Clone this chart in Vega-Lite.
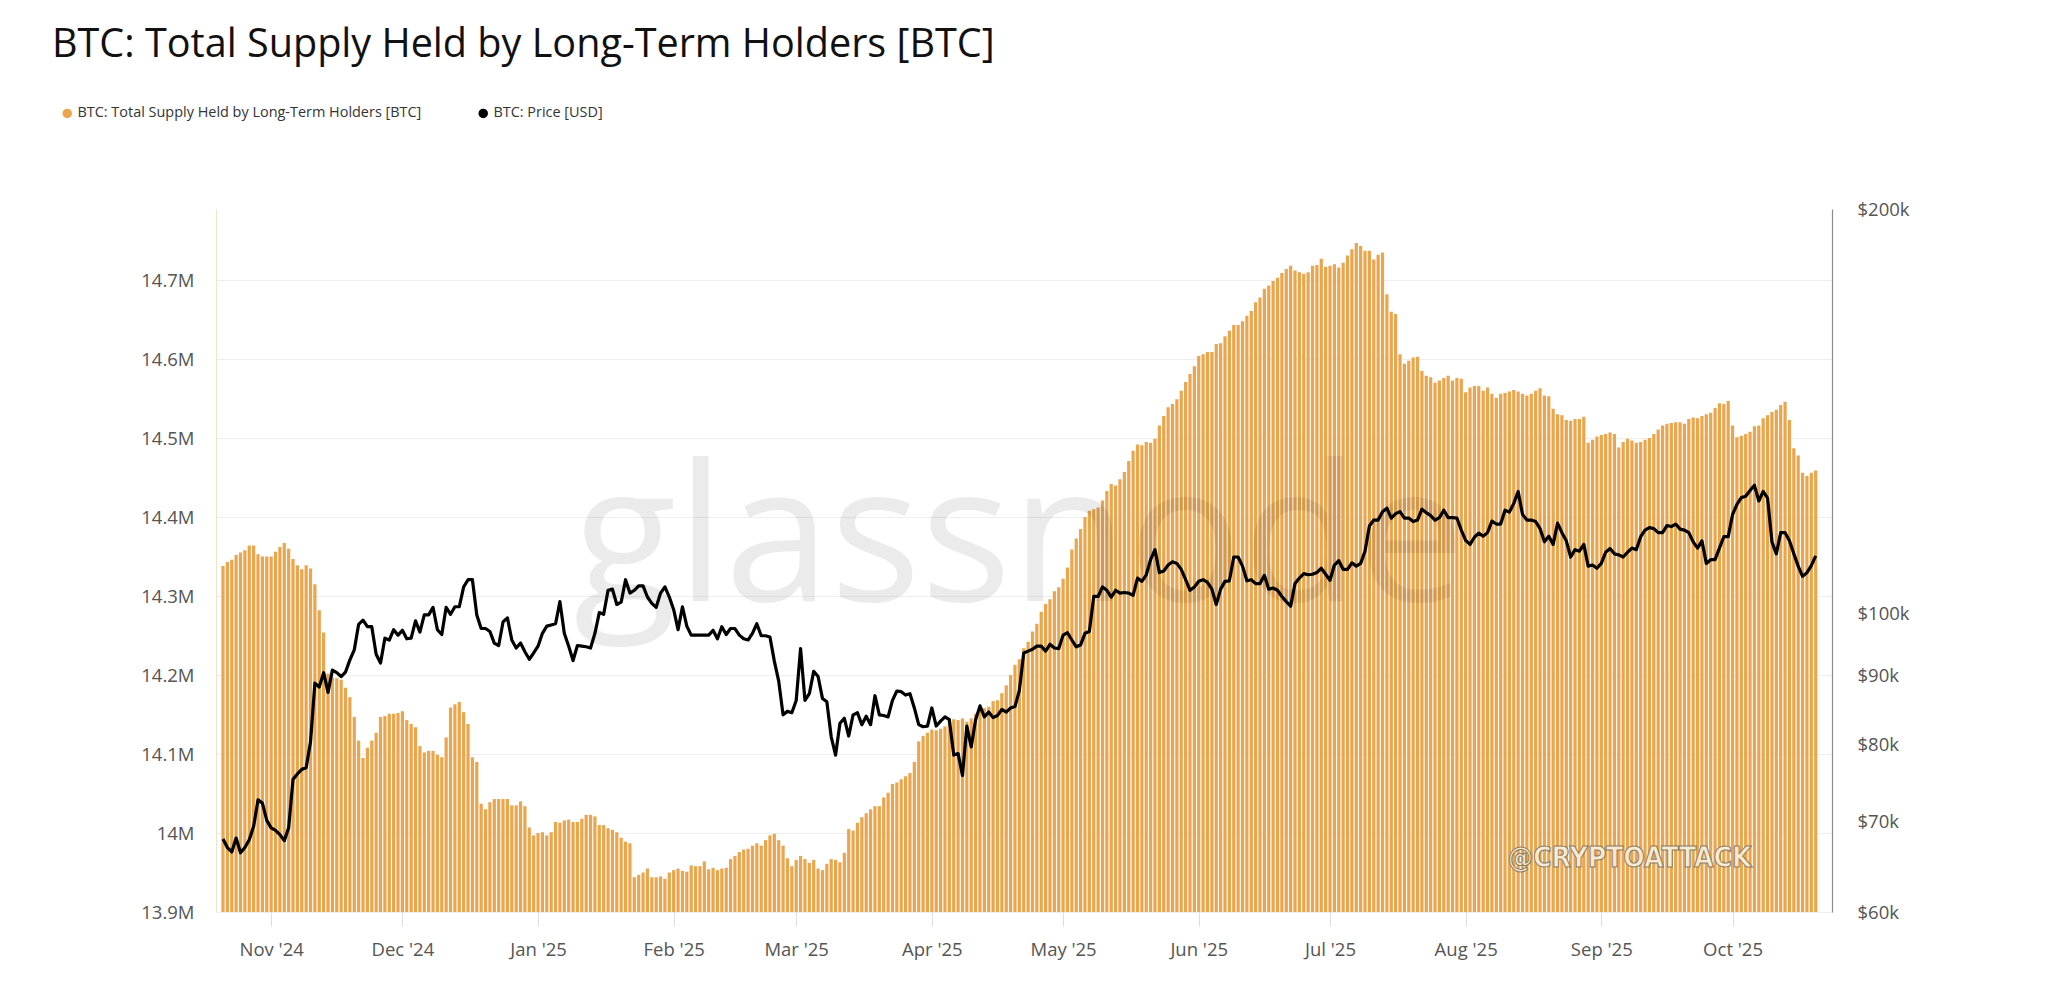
{
"$schema": "https://vega.github.io/schema/vega-lite/v6.json",
"width": 1616,
"height": 703,
"autosize": {"type": "none"},
"padding": {"left": 216, "top": 209, "right": 216, "bottom": 80},
"background": "#ffffff",
"config": {
  "font": "Open Sans",
  "view": {"stroke": null},
  "axis": {"labelFont": "Open Sans", "labelFontSize": 18.5, "labelColor": "#555555", "title": null}
},
"title": {"text": "BTC: Total Supply Held by Long-Term Holders [BTC]", "anchor": "start", "frame": "group", "dx": -164, "offset": 40, "fontSize": 39.6, "fontWeight": "normal", "color": "#111111", "font": "Open Sans"},
"data": {"values": [
{"date":"2024-10-21","supply":14338000,"price":68000},
{"date":"2024-10-22","supply":14343000,"price":67000},
{"date":"2024-10-23","supply":14346000,"price":66500},
{"date":"2024-10-24","supply":14352000,"price":68100},
{"date":"2024-10-25","supply":14355000,"price":66400},
{"date":"2024-10-26","supply":14358000,"price":67000},
{"date":"2024-10-27","supply":14364000,"price":67900},
{"date":"2024-10-28","supply":14364000,"price":69500},
{"date":"2024-10-29","supply":14353000,"price":72700},
{"date":"2024-10-30","supply":14350000,"price":72300},
{"date":"2024-10-31","supply":14350000,"price":70200},
{"date":"2024-11-01","supply":14350000,"price":69300},
{"date":"2024-11-02","supply":14356000,"price":69000},
{"date":"2024-11-03","supply":14362000,"price":68500},
{"date":"2024-11-04","supply":14367000,"price":67800},
{"date":"2024-11-05","supply":14360000,"price":69300},
{"date":"2024-11-06","supply":14347000,"price":75300},
{"date":"2024-11-07","supply":14339000,"price":76000},
{"date":"2024-11-08","supply":14334000,"price":76600},
{"date":"2024-11-09","supply":14339000,"price":76800},
{"date":"2024-11-10","supply":14335000,"price":80300},
{"date":"2024-11-11","supply":14315000,"price":88800},
{"date":"2024-11-12","supply":14282000,"price":88200},
{"date":"2024-11-13","supply":14254000,"price":90400},
{"date":"2024-11-14","supply":14202000,"price":87400},
{"date":"2024-11-15","supply":14197000,"price":90800},
{"date":"2024-11-16","supply":14196000,"price":90400},
{"date":"2024-11-17","supply":14194000,"price":89800},
{"date":"2024-11-18","supply":14184000,"price":90500},
{"date":"2024-11-19","supply":14172000,"price":92400},
{"date":"2024-11-20","supply":14147000,"price":94000},
{"date":"2024-11-21","supply":14117000,"price":98200},
{"date":"2024-11-22","supply":14095000,"price":98900},
{"date":"2024-11-23","supply":14108000,"price":97800},
{"date":"2024-11-24","supply":14117000,"price":97800},
{"date":"2024-11-25","supply":14127000,"price":93300},
{"date":"2024-11-26","supply":14147000,"price":91900},
{"date":"2024-11-27","supply":14148000,"price":95900},
{"date":"2024-11-28","supply":14151000,"price":95600},
{"date":"2024-11-29","supply":14151000,"price":97300},
{"date":"2024-11-30","supply":14152000,"price":96400},
{"date":"2024-12-01","supply":14154000,"price":97200},
{"date":"2024-12-02","supply":14143000,"price":95800},
{"date":"2024-12-03","supply":14138000,"price":95900},
{"date":"2024-12-04","supply":14134000,"price":98800},
{"date":"2024-12-05","supply":14110000,"price":96900},
{"date":"2024-12-06","supply":14102000,"price":99800},
{"date":"2024-12-07","supply":14104000,"price":99800},
{"date":"2024-12-08","supply":14104000,"price":101100},
{"date":"2024-12-09","supply":14099000,"price":97300},
{"date":"2024-12-10","supply":14096000,"price":96500},
{"date":"2024-12-11","supply":14121000,"price":101100},
{"date":"2024-12-12","supply":14159000,"price":99900},
{"date":"2024-12-13","supply":14163000,"price":101200},
{"date":"2024-12-14","supply":14166000,"price":101200},
{"date":"2024-12-15","supply":14153000,"price":104700},
{"date":"2024-12-16","supply":14138000,"price":106000},
{"date":"2024-12-17","supply":14096000,"price":106000},
{"date":"2024-12-18","supply":14090000,"price":99800},
{"date":"2024-12-19","supply":14037000,"price":97500},
{"date":"2024-12-20","supply":14030000,"price":97500},
{"date":"2024-12-21","supply":14039000,"price":97000},
{"date":"2024-12-22","supply":14043000,"price":95100},
{"date":"2024-12-23","supply":14043000,"price":94700},
{"date":"2024-12-24","supply":14043000,"price":98600},
{"date":"2024-12-25","supply":14043000,"price":99300},
{"date":"2024-12-26","supply":14035000,"price":95600},
{"date":"2024-12-27","supply":14035000,"price":94300},
{"date":"2024-12-28","supply":14040000,"price":95100},
{"date":"2024-12-29","supply":14034000,"price":93700},
{"date":"2024-12-30","supply":14007000,"price":92500},
{"date":"2024-12-31","supply":13997000,"price":93500},
{"date":"2025-01-01","supply":14000000,"price":94600},
{"date":"2025-01-02","supply":14001000,"price":96700},
{"date":"2025-01-03","supply":13997000,"price":97900},
{"date":"2025-01-04","supply":14001000,"price":98100},
{"date":"2025-01-05","supply":14014000,"price":98300},
{"date":"2025-01-06","supply":14013000,"price":102100},
{"date":"2025-01-07","supply":14016000,"price":96700},
{"date":"2025-01-08","supply":14017000,"price":94600},
{"date":"2025-01-09","supply":14014000,"price":92300},
{"date":"2025-01-10","supply":14014000,"price":94700},
{"date":"2025-01-11","supply":14018000,"price":94600},
{"date":"2025-01-12","supply":14023000,"price":94500},
{"date":"2025-01-13","supply":14023000,"price":94300},
{"date":"2025-01-14","supply":14021000,"price":96700},
{"date":"2025-01-15","supply":14010000,"price":100200},
{"date":"2025-01-16","supply":14010000,"price":99900},
{"date":"2025-01-17","supply":14006000,"price":104100},
{"date":"2025-01-18","supply":14004000,"price":104300},
{"date":"2025-01-19","supply":14001000,"price":101600},
{"date":"2025-01-20","supply":13994000,"price":102000},
{"date":"2025-01-21","supply":13989000,"price":106000},
{"date":"2025-01-22","supply":13987000,"price":103600},
{"date":"2025-01-23","supply":13944000,"price":104100},
{"date":"2025-01-24","supply":13947000,"price":104900},
{"date":"2025-01-25","supply":13950000,"price":104900},
{"date":"2025-01-26","supply":13955000,"price":102900},
{"date":"2025-01-27","supply":13944000,"price":101800},
{"date":"2025-01-28","supply":13944000,"price":101100},
{"date":"2025-01-29","supply":13945000,"price":103600},
{"date":"2025-01-30","supply":13942000,"price":104700},
{"date":"2025-01-31","supply":13950000,"price":102900},
{"date":"2025-02-01","supply":13953000,"price":100700},
{"date":"2025-02-02","supply":13955000,"price":97300},
{"date":"2025-02-03","supply":13952000,"price":101200},
{"date":"2025-02-04","supply":13951000,"price":97900},
{"date":"2025-02-05","supply":13959000,"price":96400},
{"date":"2025-02-06","supply":13958000,"price":96400},
{"date":"2025-02-07","supply":13958000,"price":96400},
{"date":"2025-02-08","supply":13964000,"price":96400},
{"date":"2025-02-09","supply":13954000,"price":96400},
{"date":"2025-02-10","supply":13956000,"price":97200},
{"date":"2025-02-11","supply":13953000,"price":95800},
{"date":"2025-02-12","supply":13955000,"price":97800},
{"date":"2025-02-13","supply":13956000,"price":96500},
{"date":"2025-02-14","supply":13967000,"price":97500},
{"date":"2025-02-15","supply":13971000,"price":97500},
{"date":"2025-02-16","supply":13976000,"price":96400},
{"date":"2025-02-17","supply":13979000,"price":95800},
{"date":"2025-02-18","supply":13980000,"price":95600},
{"date":"2025-02-19","supply":13984000,"price":96700},
{"date":"2025-02-20","supply":13987000,"price":98300},
{"date":"2025-02-21","supply":13984000,"price":96300},
{"date":"2025-02-22","supply":13991000,"price":96300},
{"date":"2025-02-23","supply":13997000,"price":96100},
{"date":"2025-02-24","supply":13999000,"price":92200},
{"date":"2025-02-25","supply":13991000,"price":89100},
{"date":"2025-02-26","supply":13984000,"price":84100},
{"date":"2025-02-27","supply":13968000,"price":84600},
{"date":"2025-02-28","supply":13958000,"price":84400},
{"date":"2025-03-01","supply":13966000,"price":86200},
{"date":"2025-03-02","supply":13971000,"price":94200},
{"date":"2025-03-03","supply":13967000,"price":86200},
{"date":"2025-03-04","supply":13962000,"price":87200},
{"date":"2025-03-05","supply":13966000,"price":90600},
{"date":"2025-03-06","supply":13955000,"price":89800},
{"date":"2025-03-07","supply":13953000,"price":86500},
{"date":"2025-03-08","supply":13961000,"price":86000},
{"date":"2025-03-09","supply":13967000,"price":81000},
{"date":"2025-03-10","supply":13966000,"price":78500},
{"date":"2025-03-11","supply":13963000,"price":82900},
{"date":"2025-03-12","supply":13975000,"price":83600},
{"date":"2025-03-13","supply":14005000,"price":81100},
{"date":"2025-03-14","supply":14003000,"price":84100},
{"date":"2025-03-15","supply":14013000,"price":84400},
{"date":"2025-03-16","supply":14020000,"price":82700},
{"date":"2025-03-17","supply":14025000,"price":83900},
{"date":"2025-03-18","supply":14030000,"price":82700},
{"date":"2025-03-19","supply":14034000,"price":86900},
{"date":"2025-03-20","supply":14034000,"price":84100},
{"date":"2025-03-21","supply":14045000,"price":84000},
{"date":"2025-03-22","supply":14051000,"price":83800},
{"date":"2025-03-23","supply":14062000,"price":86200},
{"date":"2025-03-24","supply":14064000,"price":87600},
{"date":"2025-03-25","supply":14068000,"price":87500},
{"date":"2025-03-26","supply":14072000,"price":87000},
{"date":"2025-03-27","supply":14076000,"price":87200},
{"date":"2025-03-28","supply":14090000,"price":85100},
{"date":"2025-03-29","supply":14116000,"price":82700},
{"date":"2025-03-30","supply":14123000,"price":82400},
{"date":"2025-03-31","supply":14127000,"price":82500},
{"date":"2025-04-01","supply":14131000,"price":85100},
{"date":"2025-04-02","supply":14130000,"price":82500},
{"date":"2025-04-03","supply":14132000,"price":83200},
{"date":"2025-04-04","supply":14135000,"price":83800},
{"date":"2025-04-05","supply":14145000,"price":83400},
{"date":"2025-04-06","supply":14144000,"price":78500},
{"date":"2025-04-07","supply":14143000,"price":78700},
{"date":"2025-04-08","supply":14145000,"price":75800},
{"date":"2025-04-09","supply":14141000,"price":82500},
{"date":"2025-04-10","supply":14145000,"price":79600},
{"date":"2025-04-11","supply":14151000,"price":83400},
{"date":"2025-04-12","supply":14158000,"price":85400},
{"date":"2025-04-13","supply":14158000,"price":83800},
{"date":"2025-04-14","supply":14160000,"price":84500},
{"date":"2025-04-15","supply":14167000,"price":83700},
{"date":"2025-04-16","supply":14168000,"price":84000},
{"date":"2025-04-17","supply":14177000,"price":84900},
{"date":"2025-04-18","supply":14187000,"price":84500},
{"date":"2025-04-19","supply":14200000,"price":85100},
{"date":"2025-04-20","supply":14213000,"price":85300},
{"date":"2025-04-21","supply":14220000,"price":87700},
{"date":"2025-04-22","supply":14234000,"price":93500},
{"date":"2025-04-23","supply":14242000,"price":93800},
{"date":"2025-04-24","supply":14255000,"price":94100},
{"date":"2025-04-25","supply":14265000,"price":94600},
{"date":"2025-04-26","supply":14280000,"price":94600},
{"date":"2025-04-27","supply":14290000,"price":93800},
{"date":"2025-04-28","supply":14296000,"price":94900},
{"date":"2025-04-29","supply":14306000,"price":94300},
{"date":"2025-04-30","supply":14311000,"price":94200},
{"date":"2025-05-01","supply":14322000,"price":96400},
{"date":"2025-05-02","supply":14336000,"price":96800},
{"date":"2025-05-03","supply":14359000,"price":95600},
{"date":"2025-05-04","supply":14373000,"price":94500},
{"date":"2025-05-05","supply":14385000,"price":94800},
{"date":"2025-05-06","supply":14400000,"price":96700},
{"date":"2025-05-07","supply":14408000,"price":97000},
{"date":"2025-05-08","supply":14410000,"price":103000},
{"date":"2025-05-09","supply":14412000,"price":103000},
{"date":"2025-05-10","supply":14421000,"price":104700},
{"date":"2025-05-11","supply":14433000,"price":104100},
{"date":"2025-05-12","supply":14442000,"price":102900},
{"date":"2025-05-13","supply":14440000,"price":104100},
{"date":"2025-05-14","supply":14448000,"price":103600},
{"date":"2025-05-15","supply":14457000,"price":103700},
{"date":"2025-05-16","supply":14471000,"price":103600},
{"date":"2025-05-17","supply":14484000,"price":103200},
{"date":"2025-05-18","supply":14492000,"price":106300},
{"date":"2025-05-19","supply":14491000,"price":105700},
{"date":"2025-05-20","supply":14495000,"price":106900},
{"date":"2025-05-21","supply":14494000,"price":109700},
{"date":"2025-05-22","supply":14499000,"price":111600},
{"date":"2025-05-23","supply":14516000,"price":107300},
{"date":"2025-05-24","supply":14528000,"price":107600},
{"date":"2025-05-25","supply":14539000,"price":108700},
{"date":"2025-05-26","supply":14543000,"price":109300},
{"date":"2025-05-27","supply":14549000,"price":109000},
{"date":"2025-05-28","supply":14560000,"price":107900},
{"date":"2025-05-29","supply":14571000,"price":106000},
{"date":"2025-05-30","supply":14581000,"price":104100},
{"date":"2025-05-31","supply":14591000,"price":104700},
{"date":"2025-06-01","supply":14604000,"price":105700},
{"date":"2025-06-02","supply":14606000,"price":106000},
{"date":"2025-06-03","supply":14609000,"price":105500},
{"date":"2025-06-04","supply":14609000,"price":104300},
{"date":"2025-06-05","supply":14619000,"price":101600},
{"date":"2025-06-06","supply":14620000,"price":104300},
{"date":"2025-06-07","supply":14629000,"price":105700},
{"date":"2025-06-08","supply":14636000,"price":105800},
{"date":"2025-06-09","supply":14643000,"price":110200},
{"date":"2025-06-10","supply":14643000,"price":110200},
{"date":"2025-06-11","supply":14648000,"price":108500},
{"date":"2025-06-12","supply":14655000,"price":105800},
{"date":"2025-06-13","supply":14661000,"price":106000},
{"date":"2025-06-14","supply":14672000,"price":105300},
{"date":"2025-06-15","supply":14678000,"price":105300},
{"date":"2025-06-16","supply":14689000,"price":106800},
{"date":"2025-06-17","supply":14693000,"price":104300},
{"date":"2025-06-18","supply":14699000,"price":104500},
{"date":"2025-06-19","supply":14703000,"price":104100},
{"date":"2025-06-20","supply":14709000,"price":103000},
{"date":"2025-06-21","supply":14714000,"price":102100},
{"date":"2025-06-22","supply":14718000,"price":101300},
{"date":"2025-06-23","supply":14712000,"price":105300},
{"date":"2025-06-24","supply":14710000,"price":106300},
{"date":"2025-06-25","supply":14708000,"price":107100},
{"date":"2025-06-26","supply":14710000,"price":106900},
{"date":"2025-06-27","supply":14718000,"price":107000},
{"date":"2025-06-28","supply":14719000,"price":107300},
{"date":"2025-06-29","supply":14727000,"price":108100},
{"date":"2025-06-30","supply":14717000,"price":107000},
{"date":"2025-07-01","supply":14718000,"price":105900},
{"date":"2025-07-02","supply":14720000,"price":108700},
{"date":"2025-07-03","supply":14716000,"price":109500},
{"date":"2025-07-04","supply":14722000,"price":107900},
{"date":"2025-07-05","supply":14731000,"price":107900},
{"date":"2025-07-06","supply":14739000,"price":109100},
{"date":"2025-07-07","supply":14747000,"price":108500},
{"date":"2025-07-08","supply":14743000,"price":109000},
{"date":"2025-07-09","supply":14737000,"price":111300},
{"date":"2025-07-10","supply":14737000,"price":116200},
{"date":"2025-07-11","supply":14726000,"price":117400},
{"date":"2025-07-12","supply":14732000,"price":117400},
{"date":"2025-07-13","supply":14735000,"price":119100},
{"date":"2025-07-14","supply":14682000,"price":119800},
{"date":"2025-07-15","supply":14660000,"price":117800},
{"date":"2025-07-16","supply":14657000,"price":118700},
{"date":"2025-07-17","supply":14606000,"price":119100},
{"date":"2025-07-18","supply":14594000,"price":117800},
{"date":"2025-07-19","supply":14598000,"price":117800},
{"date":"2025-07-20","supply":14602000,"price":117100},
{"date":"2025-07-21","supply":14603000,"price":117400},
{"date":"2025-07-22","supply":14585000,"price":119600},
{"date":"2025-07-23","supply":14579000,"price":118900},
{"date":"2025-07-24","supply":14577000,"price":118300},
{"date":"2025-07-25","supply":14570000,"price":117400},
{"date":"2025-07-26","supply":14573000,"price":117900},
{"date":"2025-07-27","supply":14576000,"price":119400},
{"date":"2025-07-28","supply":14579000,"price":117900},
{"date":"2025-07-29","supply":14573000,"price":117900},
{"date":"2025-07-30","supply":14576000,"price":117800},
{"date":"2025-07-31","supply":14575000,"price":115400},
{"date":"2025-08-01","supply":14558000,"price":113400},
{"date":"2025-08-02","supply":14564000,"price":112600},
{"date":"2025-08-03","supply":14566000,"price":114000},
{"date":"2025-08-04","supply":14566000,"price":114800},
{"date":"2025-08-05","supply":14560000,"price":114200},
{"date":"2025-08-06","supply":14564000,"price":114900},
{"date":"2025-08-07","supply":14556000,"price":117200},
{"date":"2025-08-08","supply":14551000,"price":116600},
{"date":"2025-08-09","supply":14556000,"price":116600},
{"date":"2025-08-10","supply":14557000,"price":119400},
{"date":"2025-08-11","supply":14559000,"price":119000},
{"date":"2025-08-12","supply":14561000,"price":120800},
{"date":"2025-08-13","supply":14559000,"price":123300},
{"date":"2025-08-14","supply":14556000,"price":118500},
{"date":"2025-08-15","supply":14554000,"price":117400},
{"date":"2025-08-16","supply":14556000,"price":117400},
{"date":"2025-08-17","supply":14560000,"price":117100},
{"date":"2025-08-18","supply":14563000,"price":115700},
{"date":"2025-08-19","supply":14554000,"price":113100},
{"date":"2025-08-20","supply":14553000,"price":114200},
{"date":"2025-08-21","supply":14537000,"price":112600},
{"date":"2025-08-22","supply":14530000,"price":116800},
{"date":"2025-08-23","supply":14529000,"price":114900},
{"date":"2025-08-24","supply":14523000,"price":113300},
{"date":"2025-08-25","supply":14522000,"price":110200},
{"date":"2025-08-26","supply":14524000,"price":111600},
{"date":"2025-08-27","supply":14524000,"price":111300},
{"date":"2025-08-28","supply":14527000,"price":112600},
{"date":"2025-08-29","supply":14494000,"price":108500},
{"date":"2025-08-30","supply":14498000,"price":108700},
{"date":"2025-08-31","supply":14502000,"price":108100},
{"date":"2025-09-01","supply":14504000,"price":109000},
{"date":"2025-09-02","supply":14505000,"price":111100},
{"date":"2025-09-03","supply":14507000,"price":111800},
{"date":"2025-09-04","supply":14505000,"price":110800},
{"date":"2025-09-05","supply":14488000,"price":110600},
{"date":"2025-09-06","supply":14495000,"price":110200},
{"date":"2025-09-07","supply":14499000,"price":111100},
{"date":"2025-09-08","supply":14497000,"price":111900},
{"date":"2025-09-09","supply":14494000,"price":111600},
{"date":"2025-09-10","supply":14495000,"price":114100},
{"date":"2025-09-11","supply":14498000,"price":115400},
{"date":"2025-09-12","supply":14500000,"price":115900},
{"date":"2025-09-13","supply":14505000,"price":115700},
{"date":"2025-09-14","supply":14511000,"price":114900},
{"date":"2025-09-15","supply":14516000,"price":114900},
{"date":"2025-09-16","supply":14518000,"price":116300},
{"date":"2025-09-17","supply":14519000,"price":116100},
{"date":"2025-09-18","supply":14520000,"price":116600},
{"date":"2025-09-19","supply":14520000,"price":115600},
{"date":"2025-09-20","supply":14518000,"price":115400},
{"date":"2025-09-21","supply":14524000,"price":114900},
{"date":"2025-09-22","supply":14526000,"price":113100},
{"date":"2025-09-23","supply":14525000,"price":111900},
{"date":"2025-09-24","supply":14528000,"price":113300},
{"date":"2025-09-25","supply":14530000,"price":109000},
{"date":"2025-09-26","supply":14532000,"price":109700},
{"date":"2025-09-27","supply":14538000,"price":109700},
{"date":"2025-09-28","supply":14544000,"price":111900},
{"date":"2025-09-29","supply":14543000,"price":114100},
{"date":"2025-09-30","supply":14547000,"price":114100},
{"date":"2025-10-01","supply":14516000,"price":118500},
{"date":"2025-10-02","supply":14501000,"price":120600},
{"date":"2025-10-03","supply":14503000,"price":122000},
{"date":"2025-10-04","supply":14505000,"price":122300},
{"date":"2025-10-05","supply":14508000,"price":123500},
{"date":"2025-10-06","supply":14515000,"price":124600},
{"date":"2025-10-07","supply":14516000,"price":121300},
{"date":"2025-10-08","supply":14525000,"price":123300},
{"date":"2025-10-09","supply":14529000,"price":121900},
{"date":"2025-10-10","supply":14533000,"price":113100},
{"date":"2025-10-11","supply":14536000,"price":110800},
{"date":"2025-10-12","supply":14542000,"price":114900},
{"date":"2025-10-13","supply":14546000,"price":114900},
{"date":"2025-10-14","supply":14523000,"price":113300},
{"date":"2025-10-15","supply":14487000,"price":110800},
{"date":"2025-10-16","supply":14478000,"price":108500},
{"date":"2025-10-17","supply":14456000,"price":106600},
{"date":"2025-10-18","supply":14452000,"price":107300},
{"date":"2025-10-19","supply":14456000,"price":108600},
{"date":"2025-10-20","supply":14459000,"price":110400}
]},
"encoding": {
  "x": {"field": "date", "type": "temporal",
    "scale": {"type": "utc", "nice": false, "domain": [{"year": 2024, "month": 10, "date": 20, "hours": 13, "utc": true}, {"year": 2025, "month": 10, "date": 22, "hours": 14, "utc": true}]},
    "axis": {"tickCount": {"interval": "month", "step": 1}, "format": "%b '%y", "grid": false, "domain": false, "ticks": true, "tickColor": "#dddddd", "tickSize": 14, "labelPadding": 14, "labelOverlap": false, "labelFlush": false, "title": null}}
},
"layer": [
  {"layer": [
    {"mark": {"type": "bar", "width": 3.2},
     "encoding": {
       "y": {"field": "supply", "type": "quantitative",
         "scale": {"domain": [13900000, 14790000], "zero": false, "nice": false},
         "axis": {"orient": "left", "values": [13900000, 14000000, 14100000, 14200000, 14300000, 14400000, 14500000, 14600000, 14700000], "labelExpr": "format(datum.value/1000000, '.1~f') + 'M'", "grid": true, "gridColor": "#eeeeee", "gridWidth": 1, "domain": true, "domainColor": "#f2e2c6", "ticks": false, "labelPadding": 22, "title": null}},
       "y2": {"datum": 13900000},
       "color": {"datum": "BTC: Total Supply Held by Long-Term Holders [BTC]", "type": "nominal",
         "scale": {"domain": ["BTC: Total Supply Held by Long-Term Holders [BTC]", "BTC: Price [USD]"], "range": ["#EAA54D", "#000000"]},
         "legend": {"orient": "none", "legendX": -156, "legendY": -103, "direction": "horizontal", "title": null, "symbolType": "circle", "symbolSize": 90, "labelFontSize": 14.45, "labelColor": "#333333", "labelFont": "Open Sans", "columnPadding": 54, "labelOffset": 3, "padding": 0, "labelLimit": 600, "symbolStrokeWidth": 0, "symbolOpacity": 1,
           "encode": {"symbols": {"update": {"fill": {"scale": "color", "field": "value"}, "stroke": {"value": "transparent"}}}}}}
     }},
    {"data": {"values": [{"date": "2025-04-21", "supply": 14294000, "label": "glassnode"}]},
     "mark": {"type": "text", "font": "Open Sans", "fontSize": 190, "align": "center", "baseline": "alphabetic", "fill": "#000000", "opacity": 0.075},
     "encoding": {"y": {"field": "supply", "type": "quantitative"}, "text": {"field": "label"}}},
    {"data": {"values": [{"date": "2025-09-07T12:00:00Z", "supply": 13967000, "label": "@CRYPTOATTACK"}]},
     "mark": {"type": "text", "font": "DejaVu Sans Condensed, Liberation Sans, sans-serif", "fontWeight": "bold", "fontSize": 28, "align": "center", "baseline": "middle", "fill": "#fbf1dc", "fillOpacity": 0.9, "stroke": "#8a7b62", "strokeWidth": 1},
     "encoding": {"y": {"field": "supply", "type": "quantitative"}, "text": {"field": "label"}}}
  ]},
  {"mark": {"type": "line", "strokeWidth": 3.2, "strokeJoin": "round"},
   "encoding": {
     "y": {"field": "price", "type": "quantitative",
       "scale": {"type": "log", "domain": [60000, 200000], "nice": false},
       "axis": {"orient": "right", "values": [60000, 70000, 80000, 90000, 100000, 200000], "labelExpr": "'$' + format(datum.value/1000, 'd') + 'k'", "grid": false, "domain": true, "domainColor": "#8c8c8c", "domainWidth": 1.2, "ticks": false, "labelPadding": 25, "title": null}},
     "color": {"datum": "BTC: Price [USD]", "type": "nominal"}
   }}
],
"resolve": {"scale": {"y": "independent"}}
}
